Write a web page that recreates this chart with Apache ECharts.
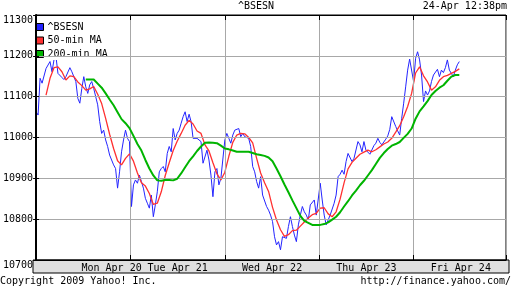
<!DOCTYPE html>
<html><head><meta charset="utf-8">
<script src="https://cdn.jsdelivr.net/npm/echarts@6/dist/echarts.min.js"></script>
<style>html,body{margin:0;padding:0;background:#fff}#c{width:512px;height:288px}</style>
</head><body><div id="c"></div>
<script>
// time axis in trading minutes since Monday open (one session = 380 min)
const DAY_MIN = 380;
const X_MAX = 1892;
const PRICE_STEP = 8, PRICE_START = 0;
const MA50_STEP = 16, MA50_START = 40;
const MA200_STEP = 16, MA200_START = 200;

const price = [11063,11055,11145,11133,11129,11169,11173,11186,11161,11190,11198,11157,11161,11147,11142,11149,11145,11171,11161,11149,
11137,11096,11084,11120,11149,11124,11108,11129,11137,11120,11100,11080,11039,11010,11018,10994,10978,10957,10957,10933,
10924,10876,10916,10965,10994,11018,10998,10990,10831,10884,10896,10888,10908,10892,10876,10851,10839,10827,10859,10806,
10835,10867,10916,10924,10929,10916,10961,10978,10965,11022,10994,11010,11018,11035,11051,11063,11039,11057,11039,10998,
10994,10998,11002,10990,10937,10933,10969,10945,10908,10855,10916,10924,10884,10900,10896,10994,11010,10998,10986,11006,
11018,11020,11022,11002,11010,11002,11002,10998,10978,10929,10916,10892,10876,10904,10859,10855,10831,10822,10810,10794,
10757,10737,10745,10725,10757,10757,10753,10782,10806,10782,10761,10745,10786,10810,10831,10818,10810,10798,10835,10839,
10847,10810,10814,10888,10847,10810,10786,10788,10810,10810,10839,10859,10904,10910,10920,10910,10941,10961,10961,10941,
10949,10953,10990,10982,10965,10990,10969,10967,10959,10957,10980,10986,10998,10988,10982,10982,10996,11004,11020,11051,
11047,11027,11016,11006,11047,11084,11124,11165,11192,11194,11137,11194,11210,11190,11153,11088,11114,11104,11114,11137,
11153,11157,11167,11149,11165,11159,11171,11190,11165,11165,11149,11165,11178,11186];

const ma50 = [11104,11145,11171,11173,11161,11141,11151,11149,11136,11127,11116,11119,11125,11106,11083,11047,11008,10973,10943,10933,
10949,10960,10942,10913,10889,10881,10863,10836,10839,10867,10907,10938,10968,10991,11010,11030,11042,11033,11016,11010,
10982,10967,10938,10911,10896,10915,10954,10988,11006,11010,11009,11000,10987,10949,10913,10889,10868,10829,10798,10774,
10758,10762,10772,10773,10783,10793,10803,10811,10814,10827,10828,10813,10806,10818,10849,10889,10923,10939,10949,10959,
10964,10969,10965,10970,10977,10984,10989,10998,11013,11029,11051,11076,11108,11158,11173,11151,11136,11116,11124,11140,
11149,11152,11157,11162,11168];

const ma200 = [11142,11142,11142,11132,11122,11108,11093,11079,11062,11045,11035,11023,11004,10984,10968,10945,10924,10907,10895,10894,
10896,10896,10895,10899,10912,10927,10942,10954,10967,10978,10987,10988,10987,10986,10980,10973,10971,10968,10965,10965,
10965,10965,10962,10959,10957,10955,10951,10942,10924,10905,10885,10866,10846,10827,10808,10796,10791,10786,10786,10786,
10788,10792,10799,10806,10817,10831,10844,10858,10870,10883,10894,10907,10920,10935,10950,10962,10972,10980,10984,10989,
10999,11009,11022,11046,11064,11076,11089,11104,11114,11122,11128,11139,11149,11153,11153];

const dayLabels = ['Mon Apr 20','Tue Apr 21','Wed Apr 22','Thu Apr 23','Fri Apr 24'];
const dayLabelTimes = [304, 570, 950, 1330, 1710];
const Y_MIN = 10700, Y_MAX = 11300, Y_STEP = 100;

const seriesNames = ['^BSESN','50-min MA','200-min MA'];
const colors = ['#2424ff','#ff3030','#00b400'];

function pts(arr, start, step){ return arr.map((v,i)=>[start+i*step, v]); }

const FONT = 'DejaVu Sans Mono';
const chart = echarts.init(document.getElementById('c'), null, {renderer:'canvas'});
const txt = {fontFamily:FONT, fontSize:10, color:'#000', fontWeight:'normal'};
chart.setOption({
  animation:false,
  backgroundColor:'#fff',
  title:[
    {text:'^BSESN', left:'center', top:1, padding:0, textStyle:txt},
    {text:'24-Apr 12:38pm', right:5, top:1, padding:0, textStyle:txt},
    {text:'Copyright 2009 Yahoo! Inc.', left:0, top:276, padding:0, textStyle:txt},
    {text:'http://finance.yahoo.com/', right:1, top:276, padding:0, textStyle:txt}
  ],
  legend:{
    data:seriesNames, orient:'vertical', left:34, top:21, padding:[1,2,1,2],
    backgroundColor:'#fff', itemWidth:7, itemHeight:7, itemGap:3.5,
    icon:'rect', itemStyle:{borderColor:'#000', borderWidth:1},
    textStyle:{fontFamily:FONT, fontSize:10, color:'#000', padding:[0,0,0,-1]},
    selectedMode:false
  },
  graphic:[{type:'rect', z:-10, shape:{x:33, y:260, width:476, height:13},
    style:{fill:'#e0e0e0', stroke:'#000', lineWidth:1}}],
  grid:{left:33, right:6, top:15, bottom:28, show:true, borderColor:'#000', borderWidth:1, backgroundColor:'transparent'},
  xAxis:[
    {type:'value', min:0, max:X_MAX, interval:DAY_MIN, position:'bottom', z:5,
     axisLine:{show:true, lineStyle:{color:'#000'}},
     axisTick:{show:true, inside:true, length:5, lineStyle:{color:'#000'}},
     splitLine:{show:true, lineStyle:{color:'#a8a8a8', width:1}},
     axisLabel:{customValues:dayLabelTimes, margin:3, fontFamily:FONT, fontSize:10, color:'#000',
       formatter:(v)=>dayLabels[dayLabelTimes.indexOf(v)] || ''}},
    {type:'value', min:0, max:X_MAX, interval:DAY_MIN, position:'top', z:5,
     axisLine:{show:true, lineStyle:{color:'#000'}},
     axisTick:{show:true, inside:true, length:5, lineStyle:{color:'#000'}},
     splitLine:{show:false}, axisLabel:{show:false}}
  ],
  yAxis:[
    {type:'value', min:Y_MIN, max:Y_MAX, interval:Y_STEP, position:'left', z:5,
     axisLine:{show:true, lineStyle:{color:'#000', width:2}},
     axisTick:{show:true, inside:false, length:3, lineStyle:{color:'#000'}},
     splitLine:{show:true, lineStyle:{color:'#a8a8a8', width:1}},
     axisLabel:{margin:3, fontFamily:FONT, fontSize:10, color:'#000',
       formatter:(v)=>String(v),
       verticalAlignMinLabel:'top', verticalAlignMaxLabel:'top'}},
    {type:'value', min:Y_MIN, max:Y_MAX, interval:Y_STEP, position:'right', z:5,
     axisLine:{show:true, lineStyle:{color:'#000'}},
     axisTick:{show:true, inside:false, length:3, lineStyle:{color:'#000'}},
     splitLine:{show:false}, axisLabel:{show:false}}
  ],
  series:[
    {name:seriesNames[0], type:'line', data:pts(price, PRICE_START, PRICE_STEP), symbol:'none',
     color:colors[0], lineStyle:{width:1, color:colors[0]}, z:3},
    {name:seriesNames[1], type:'line', data:pts(ma50, MA50_START, MA50_STEP), symbol:'none',
     color:colors[1], lineStyle:{width:1.3, color:colors[1]}, z:4},
    {name:seriesNames[2], type:'line', data:pts(ma200, MA200_START, MA200_STEP), symbol:'none',
     color:colors[2], lineStyle:{width:2, color:colors[2]}, z:5}
  ]
});
</script></body></html>
